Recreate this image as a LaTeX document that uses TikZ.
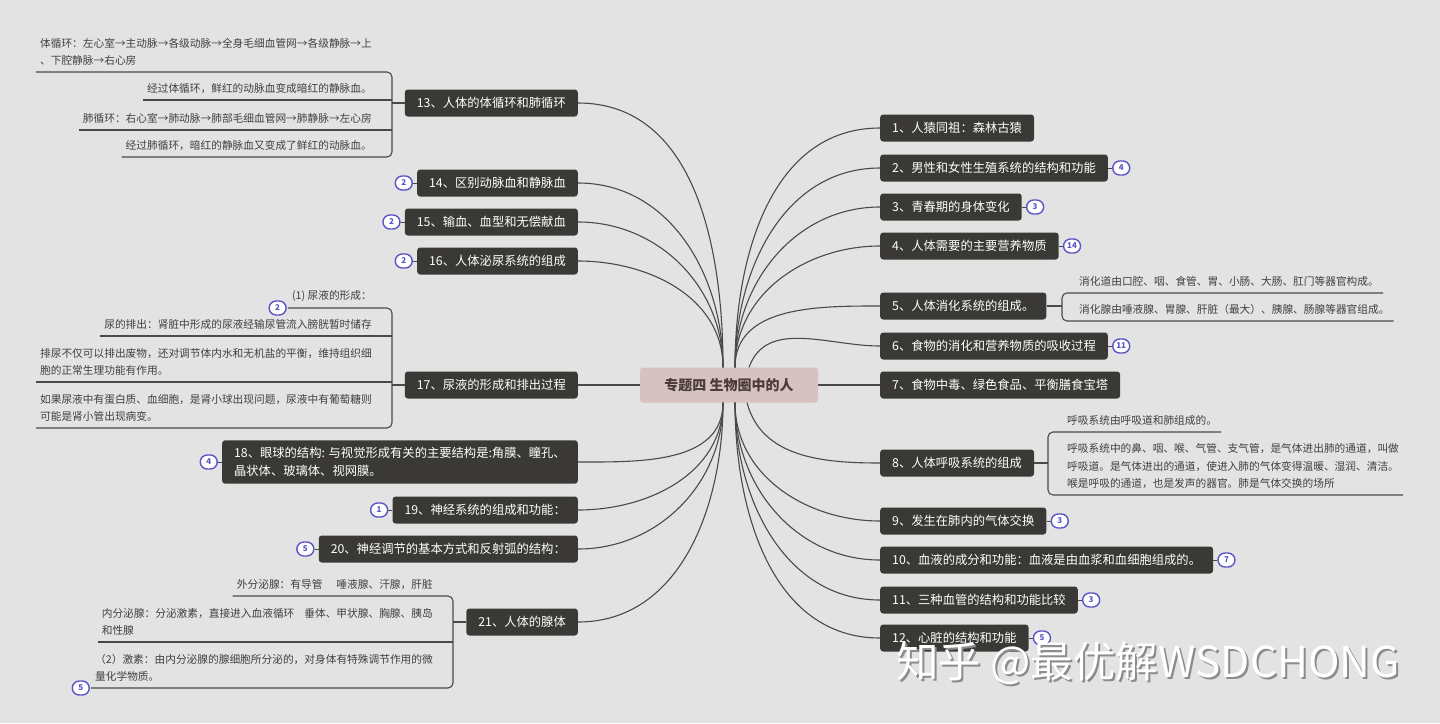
\documentclass[tikz,border=0pt]{standalone}
\usepackage{fontspec}
\setmainfont{Noto Sans CJK SC}
\usetikzlibrary{positioning}
\definecolor{bggray}{HTML}{E3E3E3}
\definecolor{boxdark}{HTML}{3A3935}
\definecolor{hubpink}{HTML}{D6C2C0}
\definecolor{hubtext}{HTML}{4A3A3A}
\definecolor{linegray}{HTML}{4A4A48}
\definecolor{leaftext}{HTML}{404040}
\definecolor{badgeblue}{HTML}{5B54C6}

\begin{document}
\begin{tikzpicture}[
  x=1pt, y=-1pt,
  hub/.style={rectangle, rounded corners=3pt, fill=hubpink, text=hubtext, font=\fontsize{14}{16}\selectfont\bfseries, minimum width=178pt, minimum height=35pt},
  topic/.style={rectangle, rounded corners=3pt, fill=boxdark, text=white, font=\fontsize{12.3}{18}\selectfont, inner xsep=12pt, minimum height=27pt, align=left},
  leaf/.style={font=\fontsize{10.7}{17.5}\selectfont, text=leaftext, inner xsep=4pt, inner ysep=6pt, align=left},
  badge/.style={rectangle, rounded corners=7pt, draw=badgeblue, line width=1.4pt, fill=white, text=badgeblue, font=\fontsize{8}{8}\selectfont\bfseries, minimum width=17pt, minimum height=14pt, inner sep=1.5pt},
  link/.style={draw=linegray, line width=1.1pt},
  blink/.style={draw=linegray, line width=0.8pt},
  wmark/.style={font=\fontsize{42.5}{44}\selectfont, inner sep=0pt, anchor=west}
]
\useasboundingbox (0,0) rectangle (1440,723);
\fill[bggray] (0,0) rectangle (1440,723);

% centre
\node[hub] (hub) at (729,385) {专题四 生物圈中的人};
\coordinate (hubNE) at ([xshift=6pt]hub.north);
\coordinate (hubNW) at ([xshift=-6pt]hub.north);
\coordinate (hubSE) at ([xshift=6pt]hub.south);
\coordinate (hubSW) at ([xshift=-6pt]hub.south);

% right topics
\node[topic, anchor=west] (t1) at (880,128) {1、人猿同祖：森林古猿};
\node[topic, anchor=west] (t2) at (880,168) {2、男性和女性生殖系统的结构和功能};
\node[topic, anchor=west] (t3) at (880,207) {3、青春期的身体变化};
\node[topic, anchor=west] (t4) at (880,246) {4、人体需要的主要营养物质};
\node[topic, anchor=west] (t5) at (880,306) {5、人体消化系统的组成。};
\node[topic, anchor=west] (t6) at (880,346) {6、食物的消化和营养物质的吸收过程};
\node[topic, anchor=west] (t7) at (880,385) {7、食物中毒、绿色食品、平衡膳食宝塔};
\node[topic, anchor=west] (t8) at (880,463) {8、人体呼吸系统的组成};
\node[topic, anchor=west] (t9) at (880,521) {9、发生在肺内的气体交换};
\node[topic, anchor=west] (t10) at (880,560) {10、血液的成分和功能：血液是由血浆和血细胞组成的。};
\node[topic, anchor=west] (t11) at (880,600) {11、三种血管的结构和功能比较};
\node[topic, anchor=west] (t12) at (880,638) {12、心脏的结构和功能};

% left topics
\node[topic, anchor=east] (t13) at (578,103) {13、人体的体循环和肺循环};
\node[topic, anchor=east] (t14) at (578,183) {14、区别动脉血和静脉血};
\node[topic, anchor=east] (t15) at (578,222) {15、输血、血型和无偿献血};
\node[topic, anchor=east] (t16) at (578,261) {16、人体泌尿系统的组成};
\node[topic, anchor=east] (t17) at (578,385) {17、尿液的形成和排出过程};
\node[topic, anchor=east, inner ysep=7pt] (t18) at (578,462) {18、眼球的结构: 与视觉形成有关的主要结构是:角膜、瞳孔、\\晶状体、玻璃体、视网膜。};
\node[topic, anchor=east] (t19) at (578,510) {19、神经系统的组成和功能：};
\node[topic, anchor=east] (t20) at (578,549) {20、神经调节的基本方式和反射弧的结构：};
\node[topic, anchor=east] (t21) at (578,622) {21、人体的腺体};

% curves from the centre
\draw[link] (hubNE) to[out=90, in=180] (t1.west);
\draw[link] (hubNE) to[out=90, in=180] (t2.west);
\draw[link] (hubNE) to[out=90, in=180] (t3.west);
\draw[link] (hubNE) to[out=90, in=180] (t4.west);
\draw[link] (hubNE) to[out=90, in=180] (t5.west);
\draw[link] ([xshift=20pt]hub.north) to[out=70, in=180] (t6.west);
\draw[link] (hub.east) -- (t7.west);
\draw[link] ([xshift=18pt]hub.south) to[out=-75, in=180] (t8.west);
\draw[link] (hubSE) to[out=-90, in=180] (t9.west);
\draw[link] (hubSE) to[out=-90, in=180] (t10.west);
\draw[link] (hubSE) to[out=-90, in=180] (t11.west);
\draw[link] (hubSE) to[out=-90, in=180] (t12.west);
\draw[link] (hubNW) to[out=90, in=0] (t13.east);
\draw[link] (hubNW) to[out=90, in=0] (t14.east);
\draw[link] (hubNW) to[out=90, in=0] (t15.east);
\draw[link] (hubNW) to[out=90, in=0] (t16.east);
\draw[link] (hub.west) -- (t17.east);
\draw[link] (hubSW) to[out=-90, in=0] (t18.east);
\draw[link] (hubSW) to[out=-90, in=0] (t19.east);
\draw[link] (hubSW) to[out=-90, in=0] (t20.east);
\draw[link] (hubSW) to[out=-90, in=0] (t21.east);

% badges
\node[badge, right=4pt of t2] (b2) {4};
\node[badge, right=4pt of t3] (b3) {3};
\node[badge, right=4pt of t4] (b4) {14};
\node[badge, right=4pt of t6] (b6) {11};
\node[badge, right=4pt of t9] (b9) {3};
\node[badge, right=4pt of t10] (b10) {7};
\node[badge, right=4pt of t11] (b11) {3};
\node[badge, right=4pt of t12] (b12) {5};
\node[badge, left=4pt of t14] (b14) {2};
\node[badge, left=4pt of t15] (b15) {2};
\node[badge, left=4pt of t16] (b16) {2};
\node[badge, left=4pt of t18] (b18) {4};
\node[badge, left=4pt of t19] (b19) {1};
\node[badge, left=4pt of t20] (b20) {5};
\draw[blink] (t2) -- (b2);
\draw[blink] (t3) -- (b3);
\draw[blink] (t4) -- (b4);
\draw[blink] (t6) -- (b6);
\draw[blink] (t9) -- (b9);
\draw[blink] (t10) -- (b10);
\draw[blink] (t11) -- (b11);
\draw[blink] (t12) -- (b12);
\draw[blink] (t14) -- (b14);
\draw[blink] (t15) -- (b15);
\draw[blink] (t16) -- (b16);
\draw[blink] (t18) -- (b18);
\draw[blink] (t19) -- (b19);
\draw[blink] (t20) -- (b20);

% leaves of 13
\node[leaf, anchor=south east] (l13a) at (376,72) {体循环：左心室→主动脉→各级动脉→全身毛细血管网→各级静脉→上\\、下腔静脉→右心房};
\node[leaf, anchor=south east] (l13b) at (376,100) {经过体循环，鲜红的动脉血变成暗红的静脉血。};
\node[leaf, anchor=south east] (l13c) at (376,130) {肺循环：右心室→肺动脉→肺部毛细血管网→肺静脉→左心房};
\node[leaf, anchor=south east] (l13d) at (376,157) {经过肺循环，暗红的静脉血又变成了鲜红的动脉血。};
\coordinate (k13) at (392,103);
\draw[link, rounded corners=5pt] (l13a.south west) -- (l13a.south -| k13) -- (l13d.south -| k13) -- (l13d.south west);
\draw[link] (l13b.south west) -- (l13b.south -| k13);
\draw[link] (l13c.south west) -- (l13c.south -| k13);
\draw[link] (k13) -- (t13.west);

% leaves of 17
\node[leaf, anchor=south east] (l17a) at (376,308) {(1) 尿液的形成：};
\node[leaf, anchor=south east] (l17b) at (376,336) {尿的排出：肾脏中形成的尿液经输尿管流入膀胱暂时储存};
\node[leaf, anchor=south east] (l17c) at (376,382) {排尿不仅可以排出废物，还对调节体内水和无机盐的平衡，维持组织细\\胞的正常生理功能有作用。};
\node[leaf, anchor=south east] (l17d) at (376,428) {如果尿液中有蛋白质、血细胞，是肾小球出现问题，尿液中有葡萄糖则\\可能是肾小管出现病变。};
\coordinate (k17) at (392,385);
\draw[link, rounded corners=5pt] (l17a.south west) -- (l17a.south -| k17) -- (l17d.south -| k17) -- (l17d.south west);
\draw[link] (l17b.south west) -- (l17b.south -| k17);
\draw[link] (l17c.south west) -- (l17c.south -| k17);
\draw[link] (k17) -- (t17.west);
\node[badge, left=1pt of l17a.south west] (b17) {2};

% leaves of 21
\node[leaf, anchor=south east] (l21a) at (437,596) {外分泌腺：有导管\hspace{14pt}唾液腺、汗腺，肝脏};
\node[leaf, anchor=south east] (l21b) at (437,642) {内分泌腺：分泌激素，直接进入血液循环\hspace{10pt}垂体、甲状腺、胸腺、胰岛\\和性腺};
\node[leaf, anchor=south east] (l21c) at (437,688) {（2）激素：由内分泌腺的腺细胞所分泌的，对身体有特殊调节作用的微\\量化学物质。};
\coordinate (k21) at (453,622);
\draw[link, rounded corners=5pt] (l21a.south west) -- (l21a.south -| k21) -- (l21c.south -| k21) -- (l21c.south west);
\draw[link] (l21b.south west) -- (l21b.south -| k21);
\draw[link] (k21) -- (t21.west);
\node[badge, left=1pt of l21c.south west] (b21) {5};

% leaves of 5
\node[leaf, anchor=south west] (l5a) at (1075,293) {消化道由口腔、咽、食管、胃、小肠、大肠、肛门等器官构成。};
\node[leaf, anchor=south west] (l5b) at (1075,321) {消化腺由唾液腺、胃腺、肝脏（最大）、胰腺、肠腺等器官组成。};
\coordinate (k5) at (1062,306);
\draw[link, rounded corners=5pt] (l5a.south east) -- (l5a.south -| k5) -- (l5b.south -| k5) -- (l5b.south east);
\draw[link] (t5.east) -- (k5);

% leaves of 8
\node[leaf, anchor=south west] (l8a) at (1063,432) {呼吸系统由呼吸道和肺组成的。};
\node[leaf, anchor=south west] (l8b) at (1063,495) {呼吸系统中的鼻、咽、喉、气管、支气管，是气体进出肺的通道，叫做\\呼吸道。是气体进出的通道，使进入肺的气体变得温暖、湿润、清洁。\\喉是呼吸的通道，也是发声的器官。肺是气体交换的场所};
\coordinate (k8) at (1048,463);
\draw[link, rounded corners=5pt] (l8a.south east) -- (l8a.south -| k8) -- (l8b.south -| k8) -- (l8b.south east);
\draw[link] (t8.east) -- (k8);

% watermark
\node[wmark, text=black!45] (wms) at (898,665) {知乎 @最优解WSDCHONG};
\node[wmark, text=white] (wm) at (896,663) {知乎 @最优解WSDCHONG};
\end{tikzpicture}
\end{document}
